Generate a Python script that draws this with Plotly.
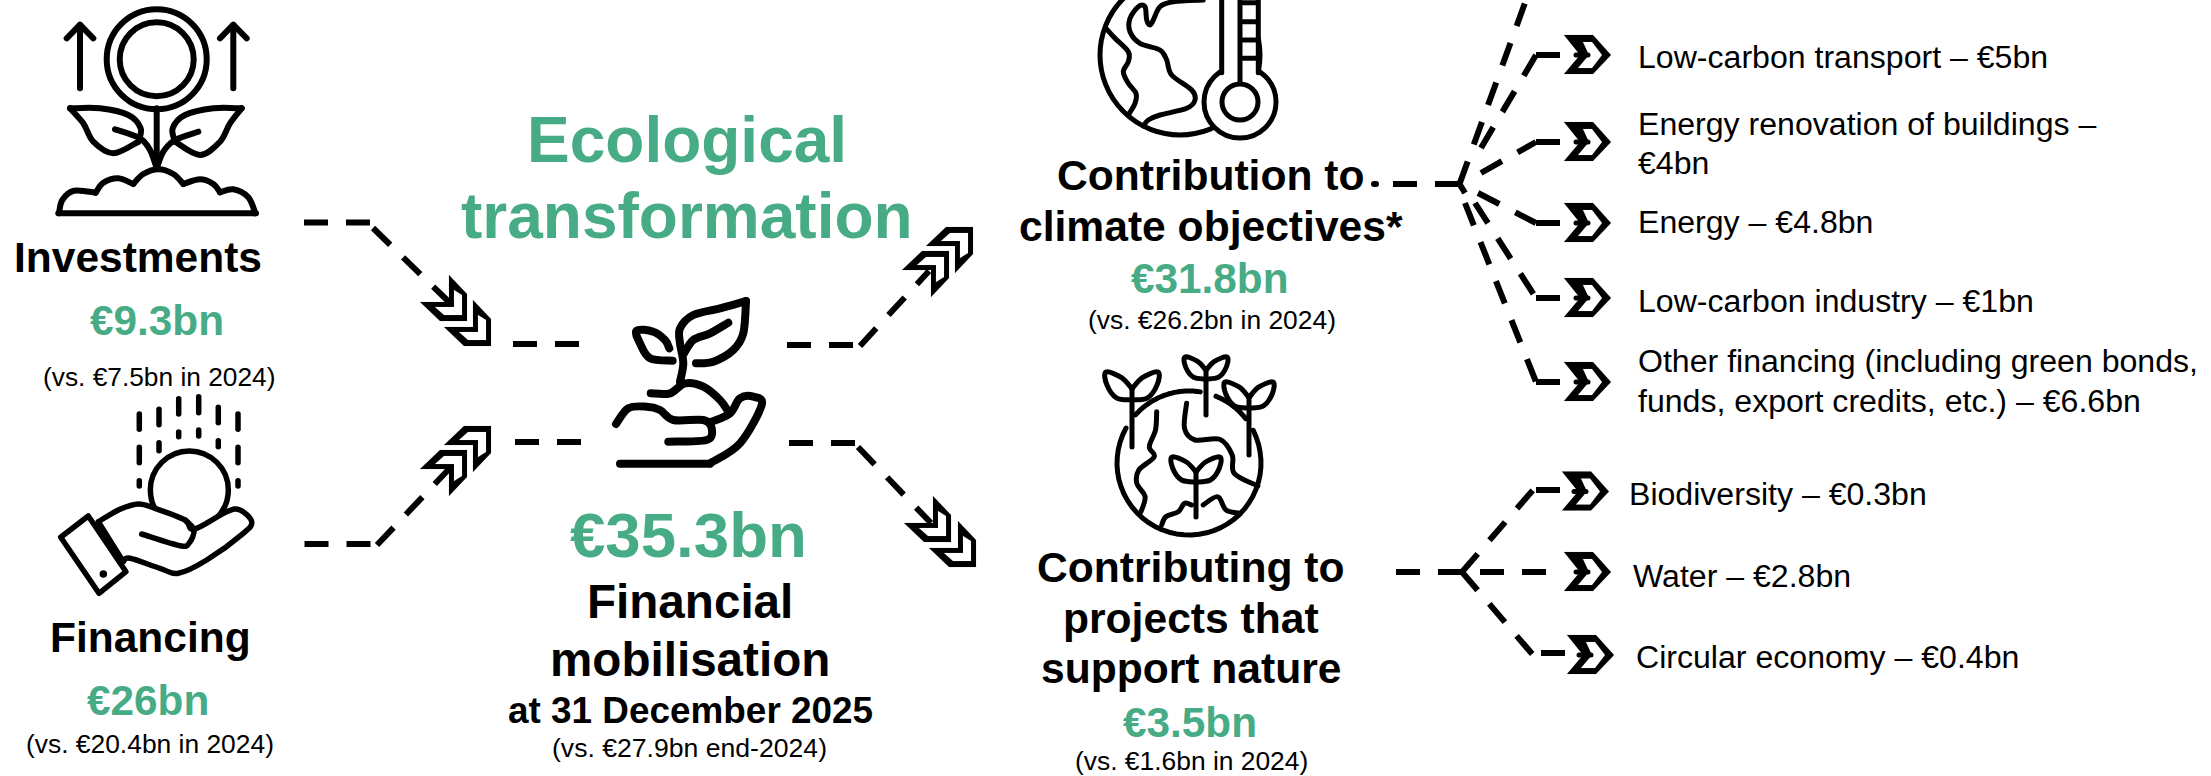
import plotly.graph_objects as go
import numpy as np

# ---------- DATA ----------
SOURCES = ["Investments", "Financing"]
SOURCE_VALUES = [9.3, 26]
SOURCE_PRIOR = [7.5, 20.4]
TOTAL_VALUE = 35.3
TOTAL_PRIOR = 27.9
TITLE_LINES = ["Ecological", "transformation"]
TOTAL_LINES = ["Financial", "mobilisation"]
TOTAL_DATE = "at 31 December 2025"
OBJECTIVES = [["Contribution to", "climate objectives*"], ["Contributing to", "projects that", "support nature"]]
OBJECTIVE_VALUES = [31.8, 3.5]
OBJECTIVE_PRIOR = [26.2, 1.6]
CLIMATE_ITEMS = [["Low-carbon transport – "], ["Energy renovation of buildings –", ""], ["Energy – "],
                 ["Low-carbon industry – "], ["Other financing (including green bonds,", "funds, export credits, etc.) – "]]
CLIMATE_VALUES = ["5", "4", "4.8", "1", "6.6"]
NATURE_ITEMS = ["Biodiversity – ", "Water – ", "Circular economy – "]
NATURE_VALUES = ["0.3", "2.8", "0.4"]

GREEN = "rgb(71,172,134)"
BLACK = "#000000"
FONT = "Liberation Sans, Arial, sans-serif"

shapes = []
annotations = []

# ---------- helpers ----------
def zoomed(pts, ox, oy, sx=3.0, sy=3.0):
    return [(ox + x / sx, oy + y / sy) for x, y in pts]

def smooth(pts, close=False):
    p = list(pts)
    d = f"M{p[0][0]:.1f},{p[0][1]:.1f}"
    n = len(p)
    for i in range(n - 1):
        p0 = p[i - 1] if i > 0 else p[i]
        p1, p2 = p[i], p[i + 1]
        p3 = p[i + 2] if i + 2 < n else p[i + 1]
        c1 = (p1[0] + (p2[0] - p0[0]) / 6, p1[1] + (p2[1] - p0[1]) / 6)
        c2 = (p2[0] - (p3[0] - p1[0]) / 6, p2[1] - (p3[1] - p1[1]) / 6)
        d += f" C{c1[0]:.1f},{c1[1]:.1f} {c2[0]:.1f},{c2[1]:.1f} {p2[0]:.1f},{p2[1]:.1f}"
    return d + (" Z" if close else "")

def poly(pts, close=False):
    d = "M" + " L".join(f"{x:.1f},{y:.1f}" for x, y in pts)
    return d + (" Z" if close else "")

def stroke(d, w, fill=None, color=BLACK, dash=None):
    s = dict(type="path", path=d, xref="x", yref="y", line=dict(color=color, width=w))
    if dash:
        s["line"]["dash"] = dash
    if fill:
        s["fillcolor"] = fill
    shapes.append(s)

def circle(cx, cy, r, w, fill=None):
    s = dict(type="circle", xref="x", yref="y", x0=cx - r, x1=cx + r, y0=cy - r, y1=cy + r,
             line=dict(color=BLACK, width=w))
    if fill:
        s["fillcolor"] = fill
    shapes.append(s)

def arc(cx, cy, r, a0, a1, n=40):
    a = np.radians(np.linspace(a0, a1, n))
    return [(cx + r * np.cos(t), cy + r * np.sin(t)) for t in a]

def text(s, x, base, size, bold=False, color=BLACK, anchor="center"):
    annotations.append(dict(text=f"<b>{s}</b>" if bold else s, x=x, y=base - 0.3465 * size,
                            xref="x", yref="y", showarrow=False, xanchor=anchor, yanchor="middle",
                            font=dict(family=FONT, size=size, color=color)))

def bn(v):
    return f"€{v}bn"

# ---------- icons ----------
# Investments: coin on a plant
Z1 = lambda pts: zoomed(pts, 0, 0)
W = 6
circle(156.7, 59.3, 50, W)
circle(156.7, 59.3, 37, W)
for ax in (240, 700):
    stroke(poly(Z1([(ax, 265), (ax, 75)])), W)
    stroke(poly(Z1([(ax - 40, 115), (ax, 74), (ax + 40, 115)])), W)
stroke(poly(Z1([(470, 325), (470, 505)])), W)
stroke(smooth(Z1([(210, 325), (300, 325), (385, 345), (422, 385), (415, 425)])), W)
stroke(smooth(Z1([(210, 325), (250, 370), (280, 425), (340, 460), (415, 425)])), W)
stroke(smooth(Z1([(345, 388), (420, 415), (450, 450), (470, 505)])), W)
stroke(smooth(Z1([(725, 325), (640, 325), (555, 345), (518, 385), (525, 425)])), W)
stroke(smooth(Z1([(725, 325), (690, 370), (660, 425), (600, 465), (525, 425)])), W)
stroke(smooth(Z1([(595, 395), (525, 420), (490, 455), (470, 505)])), W)
for seg in ([(177, 640), (187, 600), (222, 572), (287, 578)],
            [(287, 578), (310, 548), (355, 535), (400, 552)],
            [(400, 552), (430, 522), (475, 508), (520, 522), (550, 552)],
            [(550, 552), (600, 538), (640, 552), (660, 577)],
            [(660, 577), (700, 568), (745, 592), (766, 640)]):
    stroke(smooth(Z1(seg)), W)
stroke(poly(Z1([(175, 640), (768, 640)])), W)

# Financing: coin over a hand
Z2 = lambda pts: zoomed(pts, 0, 380)
W = 5.5
for dx, ys in [(418, [(102, 148), (202, 248), (302, 318)]), (477, [(88, 134), (188, 212)]),
               (536, [(56, 102), (156, 170)]), (596, [(50, 98), (150, 168)]),
               (655, [(82, 128), (182, 200)]), (714, [(102, 148), (202, 248), (302, 318)])]:
    for y0, y1 in ys:
        stroke(poly(Z2([(dx, y0), (dx, y1)])), W)
circle(568 / 3, 380 + 330 / 3, 39, W)
hand = [(295, 425), (360, 388), (415, 372), (465, 385), (555, 420), (582, 448), (680, 395), (720, 390),
        (755, 425), (730, 460), (620, 540), (535, 580), (480, 565), (390, 535), (370, 545)]
stroke(smooth(Z2(hand), close=True), W, fill="#ffffff")
stroke(smooth(Z2([(555, 420), (582, 450), (567, 490), (540, 497), (425, 462)])), W)
stroke(poly(Z2([(265, 408), (378, 575), (297, 640), (182, 472)]), close=True), W, fill="#ffffff")
circle(310 / 3, 380 + 582 / 3, 2.5, 2.5, fill=BLACK)

# Centre: seedling in a hand
Z3 = lambda pts: zoomed(pts, 480, 100)
W = 8
stroke(smooth(Z3([(600, 845), (610, 790), (600, 730), (600, 685), (640, 645), (720, 625), (798, 603)])), W)
stroke(smooth(Z3([(798, 603), (790, 700), (760, 750), (700, 785), (648, 790)])), W)
stroke(smooth(Z3([(745, 668), (690, 700), (640, 720), (612, 760)])), W)
stroke(smooth(Z3([(578, 782), (510, 775), (480, 730), (470, 692), (520, 695), (555, 720), (568, 745)])), W)
stroke(smooth(Z3([(512, 880), (570, 880), (615, 850), (670, 860), (720, 900), (745, 935)])), W)
stroke(smooth(Z3([(408, 972), (445, 925), (500, 920), (540, 930), (580, 960), (670, 960), (695, 985), (680, 1020), (565, 1025)])), W)
stroke(smooth(Z3([(695, 965), (750, 940), (780, 895), (820, 890), (845, 915), (780, 1030), (690, 1090)])), W)
stroke(poly(Z3([(690, 1091), (420, 1091)])), 8)

# Climate: globe and thermometer
Z4 = lambda pts: zoomed(pts, 1000, 0)
W = 5
circle(1180, 55, 80, W)
stroke(smooth(Z4([(318, 85), (345, 115), (385, 155), (385, 185), (370, 215), (385, 250), (408, 280), (405, 310), (385, 345)])), W)
stroke(smooth(Z4([(610, 0), (520, 5), (480, 20), (460, 60), (450, 75), (440, 60), (435, 20), (415, 20), (390, 55), (390, 95),
                  (420, 130), (480, 150), (500, 180), (515, 225), (575, 270), (585, 300), (560, 325), (480, 345), (445, 360), (430, 378)])), W)
stroke(poly(Z4([(665, -20), (665, 215), (775, 215), (775, -20)]), close=True), 0.1, fill="#ffffff", color="#ffffff")
circle(1240, 102, 36, W, fill="#ffffff")
stroke(poly(Z4([(667, -20), (667, 230), (773, 230), (773, -20)]), close=True), 0.1, fill="#ffffff", color="#ffffff")
for tx in (665, 775):
    stroke(poly(Z4([(tx, -10), (tx, 218)])), W)
stroke(poly(Z4([(720, -10), (720, 255)])), W)
circle(1240, 102, 18, W, fill="#ffffff")
for ty in (8, 65, 120, 175):
    stroke(poly(Z4([(730, ty), (770, ty)])), W)

# Nature: globe with sprouts
Z5 = lambda pts: zoomed(pts, 1000, 340, 2.412, 3.0)
W = 5
for a0, a1 in [(-27, 209), (222, 279), (292, 322)]:
    stroke(poly(arc(1189, 463, 72, a0, a1)), W)
stroke(smooth(Z5([(378, 215), (375, 270), (360, 320), (372, 350), (335, 390), (330, 430), (350, 470), (340, 515)])), W)
stroke(smooth(Z5([(450, 190), (445, 265), (470, 300), (530, 298), (560, 345), (565, 400), (622, 438)])), W)
stroke(smooth(Z5([(390, 555), (400, 530), (430, 515), (445, 490), (462, 495)])), W)
stroke(smooth(Z5([(490, 495), (525, 470), (545, 510), (580, 520)])), W)

def sprout(cx, top, joint, end, hw):
    stroke(poly([(cx, top + (joint - top) * 0.55), (cx, end)]), W)
    for s in (-1, 1):
        stroke(smooth([(cx, joint), (cx + s * hw * 0.6, joint - (joint - top) * 0.08), (cx + s * hw * 0.97, joint - (joint - top) * 0.55),
                       (cx + s * hw, top), (cx + s * hw * 0.4, top + (joint - top) * 0.2), (cx, top + (joint - top) * 0.6)]), W)

sprout(1132, 372, 400, 447, 26)
sprout(1206, 357, 379, 415, 21)
sprout(1249, 382, 408, 455, 24)
sprout(1196, 457, 482, 517, 24)

# ---------- chevrons ----------
def chevron_h(tip_x, cy):
    outer = [(-47, -20), (-18, -20), (0, 0), (-18, 19), (-47, 19), (-31, 0)]
    inner = [(-28, -13), (-19, -13), (-9, 0), (-19, 13), (-33, 13), (-22, 0)]
    stroke(poly([(tip_x + x, cy + y) for x, y in outer], close=True), 0.1, fill=BLACK)
    stroke(poly([(tip_x + x, cy + y) for x, y in inner], close=True), 0.1, fill="#ffffff", color="#ffffff")
    stroke(poly([(tip_x - 35, cy), (tip_x - 23, cy)]), 5)

def chevron_d(tip_x, tip_y, flip=1):
    outer = [(-18, -46), (0, -27), (0, 0), (-27, 0), (-47, -19), (-18, -19)]
    inner = [(-13, -31), (-5, -26), (-5, -6), (-23, -6), (-32, -14), (-13, -14)]
    stroke(poly([(tip_x + x, tip_y + flip * y) for x, y in outer], close=True), 0.1, fill=BLACK)
    stroke(poly([(tip_x + x, tip_y + flip * y) for x, y in inner], close=True), 0.1, fill="#ffffff", color="#ffffff")

for t in [(491, 346, 1), (467, 321, 1), (491, 426, -1), (467, 450, -1),
          (973, 227, -1), (949, 251, -1), (976, 567, 1), (951, 542, 1)]:
    chevron_d(*t)
for cy in (55, 142, 223, 298, 382):
    chevron_h(1611, cy)
for tx, cy in [(1609, 491.5), (1611, 572), (1614, 655)]:
    chevron_h(tx, cy)

# ---------- dashed connectors ----------
DASH = "24px,18px"
def connector(pts, w=6):
    stroke(poly(pts), w, dash=DASH)

def solid(pts, w=6):
    stroke(poly(pts), w, dash="24px,0px")

connector([(304, 222.5), (372, 222.5)])
connector([(373, 228), (449, 302)])
connector([(304.5, 544), (372, 544)])
connector([(377, 545), (449, 469)])
connector([(513, 344), (581, 344)])
connector([(515, 442), (583, 442)])
connector([(787, 345), (855, 345)])
connector([(860, 346), (929, 271)])
connector([(789, 443), (857, 443)])
connector([(858, 447), (931, 523)])
# climate tree
HUB = (1459.5, 184)
connector([(1393, 184), (1460, 184)])
stroke(poly([(1374, 184), (1376, 184)]), 6)
connector([HUB, (1526, 0)])
solid([HUB, (1465, 193)])
connector([(1481, 148), (1536, 55)])
solid([(1536, 55), (1560, 55)])
connector([(1481, 173), (1536, 142)])
solid([(1536, 142), (1560, 142)])
connector([(1478, 193), (1536, 223)])
solid([(1536, 223), (1560, 223)])
connector([(1475, 203), (1536, 298)])
solid([(1536, 298), (1560, 298)])
connector([(1465, 203), (1536, 382)])
solid([(1536, 382), (1560, 382)])
# nature tree
HUB2 = (1462, 572)
connector([(1396, 572), (1462, 572)])
connector([HUB2, (1533, 490)])
solid([(1536, 490), (1560, 490)])
connector([(1480, 572), (1546, 572)])
connector([HUB2, (1533, 655)])
solid([(1541, 653), (1565, 653)])

# ---------- text ----------
text(TITLE_LINES[0], 687, 162, 64, True, GREEN)
text(TITLE_LINES[1], 687, 238, 64, True, GREEN)

text(SOURCES[0], 137.5, 272, 42.5, True)
text(bn(SOURCE_VALUES[0]), 157, 335, 42.3, True, GREEN)
text(f"(vs. {bn(SOURCE_PRIOR[0])} in 2024)", 159, 386, 26.3)
text(SOURCES[1], 150, 652, 42.5, True)
text(bn(SOURCE_VALUES[1]), 148, 715, 42.3, True, GREEN)
text(f"(vs. {bn(SOURCE_PRIOR[1])} in 2024)", 150, 753, 26.4)

text(bn(TOTAL_VALUE), 688.5, 557, 63.6, True, GREEN)
text(TOTAL_LINES[0], 690, 618, 47.6, True)
text(TOTAL_LINES[1], 690, 676, 47.6, True)
text(TOTAL_DATE, 690, 723, 36.9, True)
text(f"(vs. {bn(TOTAL_PRIOR)} end-2024)", 689, 757, 26.6)

text(OBJECTIVES[0][0], 1211, 190, 42.6, True)
text(OBJECTIVES[0][1], 1211, 241, 42.6, True)
text(bn(OBJECTIVE_VALUES[0]), 1210, 293, 42.3, True, GREEN)
text(f"(vs. {bn(OBJECTIVE_PRIOR[0])} in 2024)", 1211.5, 329, 26.4)

for line, base in zip(OBJECTIVES[1], (582, 633, 683)):
    text(line, 1191, base, 42.6, True)
text(bn(OBJECTIVE_VALUES[1]), 1190, 737, 42.3, True, GREEN)
text(f"(vs. {bn(OBJECTIVE_PRIOR[1])} in 2024)", 1191, 770, 26.4)

climate_bases = [[68], [135, 174], [233], [312], [372, 412]]
for lines, value, bases in zip(CLIMATE_ITEMS, CLIMATE_VALUES, climate_bases):
    for j, (line, base) in enumerate(zip(lines, bases)):
        s = line + bn(value) if j == len(lines) - 1 else line
        text(s, 1635.5, base, 32.1, anchor="left")
for item, value, x, base in zip(NATURE_ITEMS, NATURE_VALUES, (1627, 1631, 1633.5), (505, 587, 668)):
    text(item + bn(value), x, base, 32.1, anchor="left")

# ---------- figure ----------
fig = go.Figure()
fig.update_layout(
    width=2211, height=776, margin=dict(l=0, r=0, t=0, b=0),
    paper_bgcolor="#ffffff", plot_bgcolor="#ffffff", showlegend=False,
    xaxis=dict(range=[0, 2211], visible=False, fixedrange=True),
    yaxis=dict(range=[776, 0], visible=False, fixedrange=True),
    shapes=shapes, annotations=annotations,
)
POST = """
document.body.style.margin='0';document.body.style.overflow='hidden';
document.querySelectorAll('.shapelayer path').forEach(function(p){
  if(!p.style.strokeDasharray||p.style.strokeDasharray==='none'){p.style.strokeLinecap='round';p.style.strokeLinejoin='round';}
});
"""
fig.write_html("out.html", post_script=POST, config={"displayModeBar": False})
